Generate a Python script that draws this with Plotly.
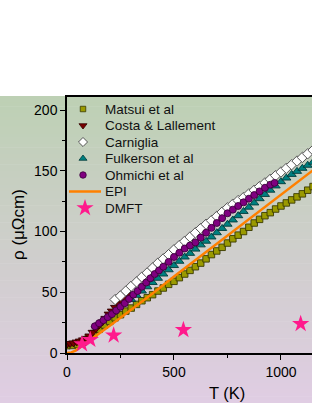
import plotly.graph_objects as go

# ---------------- data ----------------
matsui_T = [0, 25, 50, 75, 100, 125, 150, 175, 200, 225, 250, 275, 300, 325, 350, 375, 400, 425,
            450, 475, 500, 525, 550, 575, 600, 625, 650, 675, 700, 725, 750, 775, 800, 825, 850,
            875, 900, 925, 950, 975, 1000, 1025, 1050, 1075, 1100, 1125, 1150]
matsui_rho = [6, 6.2, 7, 9, 12.5, 16, 19.5, 23, 26, 29, 31.5, 34.5, 37, 40, 43, 45.5, 48, 51,
              53.5, 56.5, 59, 62, 65, 68, 71, 74, 77.5, 81, 84, 87, 90.5, 94, 97, 100, 103.5,
              107, 110, 113, 115.5, 118.5, 121, 123.5, 126, 128.5, 131, 134, 137]

costa_T = [0, 15, 30, 45, 60, 75, 90, 105, 120, 135, 150, 165, 180, 195, 210, 225, 240, 255, 270, 285]
costa_rho = [7.3, 7.8, 8.3, 9, 9.8, 10.8, 12, 14, 17, 20, 23, 25.5, 28.5, 32, 34.5, 37.5, 40.5,
             43, 45.5, 48]

carniglia_T = [225, 250, 275, 300, 325, 350, 375, 400, 425, 450, 475, 500, 525, 550, 575, 600,
               625, 650, 675, 700, 725, 750, 775, 800, 825, 850, 875, 900, 925, 950, 975, 1000,
               1025, 1050, 1075, 1100, 1125, 1150]
carniglia_rho = [44, 47, 51, 55, 58.5, 62.5, 66, 70, 74, 77.5, 81, 85, 88.5, 92, 95.5, 99,
                 102.5, 106, 109, 112.5, 116, 119.5, 122.5, 125.5, 128, 131, 134, 137, 140, 143,
                 146, 149, 152, 155, 158, 161, 164, 167]

fulkerson_T = [300, 325, 350, 375, 400, 425, 450, 475, 500, 525, 550, 575, 600, 625, 650, 675,
               700, 725, 750, 775, 800, 825, 850, 875, 900, 925, 950, 975, 1000, 1025, 1050,
               1075, 1100, 1125, 1150]
fulkerson_rho = [44, 47.5, 51, 54.5, 58, 61.5, 65, 68.5, 72, 75.5, 79, 82, 85.5, 89, 92, 95.5,
                 99, 102.5, 106, 109.5, 113, 116.5, 120, 123.5, 127, 130.5, 134, 137.5, 141, 144,
                 147, 149.5, 152, 154.5, 157]

ohmichi_T = [130, 150, 170, 190, 210, 230, 250, 270, 290, 310, 330, 350, 370, 390, 410, 430, 450,
             475, 500, 525, 550, 575, 600, 625, 650, 675, 700, 725, 750, 775, 800, 825, 850, 875,
             900, 925, 950, 970]
ohmichi_rho = [22, 24.5, 27, 29.5, 32, 35, 38, 41, 44.5, 48, 51, 54.5, 58, 61.5, 65, 68, 71, 75,
               79, 82.5, 86, 88.5, 91, 95, 99, 103, 107, 111, 115, 118, 121, 124, 127, 130, 133,
               136, 138.5, 140]

epi_T = [0, 20, 40, 60, 80, 100, 125, 150, 200, 250, 300, 400, 500, 600, 700, 800, 900, 1000,
         1100, 1150]
epi_rho = [0, 0.5, 2, 4.5, 7, 9.5, 12.5, 16, 22.5, 29, 35.5, 49, 63, 76.5, 90, 103.5, 117, 130.5,
           144, 150.5]

dmft_T = [70, 109, 218, 544, 1092]
dmft_rho = [7.3, 10.9, 14.5, 19, 24]

legend_names = ["Matsui et al", "Costa & Lallement", "Carniglia", "Fulkerson et al",
                "Ohmichi et al", "EPI", "DMFT"]

x_ticks = [0, 500, 1000]
y_ticks = [0, 50, 100, 150, 200]

# ---------------- styles ----------------
FONT = "Liberation Sans, Arial, sans-serif"
W, H = 312, 403
ML, MR, MT, MB = 67, 0, 97, 50
PW, PH = W - ML - MR, H - MT - MB

styles = [
    dict(symbol="square", size=6.5, color="#9a9a00", line=dict(color="#3a3a00", width=0.9)),
    dict(symbol="triangle-down", size=8, color="#7a0000", line=dict(color="#300000", width=0.9)),
    dict(symbol="diamond", size=8, color="white", line=dict(color="#555555", width=1)),
    dict(symbol="triangle-up", size=8, color="#008080", line=dict(color="#003a3a", width=0.9)),
    dict(symbol="circle", size=7, color="#800080", line=dict(color="#3a003a", width=0.9)),
]
legend_styles = [
    dict(symbol="square", size=5.5, color="#9a9a00", line=dict(color="#3a3a00", width=0.8)),
    dict(symbol="triangle-down", size=7, color="#7a0000", line=dict(color="#300000", width=0.8)),
    dict(symbol="diamond", size=7, color="white", line=dict(color="#555555", width=1)),
    dict(symbol="triangle-up", size=7, color="#008080", line=dict(color="#003a3a", width=0.8)),
    dict(symbol="circle", size=6.5, color="#800080", line=dict(color="#3a003a", width=0.8)),
]
series = [(matsui_T, matsui_rho), (costa_T, costa_rho), (carniglia_T, carniglia_rho),
          (fulkerson_T, fulkerson_rho), (ohmichi_T, ohmichi_rho)]

fig = go.Figure()
for (t, r), st, nm in zip(series, styles, legend_names[:5]):
    fig.add_trace(go.Scatter(x=t, y=r, mode="markers", marker=st, name=nm, showlegend=False))
fig.add_trace(go.Scatter(x=epi_T, y=epi_rho, mode="lines", line=dict(color="#ff8000", width=2.5),
                         name="EPI", showlegend=False))
star_style = dict(symbol="star", size=13, color="#ff1a8c", line=dict(width=0))
fig.add_trace(go.Scatter(x=dmft_T, y=dmft_rho, mode="markers", marker=star_style,
                         name="DMFT", showlegend=False))

# ---------------- manual legend on an overlay pixel axis ----------------
leg_x_sym, leg_x_txt, leg_y0, leg_dy = 83, 103, 109, 16.5
annotations = []
for i, nm in enumerate(legend_names):
    yy = leg_y0 + i * leg_dy
    if i < 5:
        fig.add_trace(go.Scatter(x=[leg_x_sym], y=[yy], mode="markers", marker=legend_styles[i],
                                 xaxis="x2", yaxis="y2", showlegend=False, hoverinfo="skip"))
    elif i == 5:
        fig.add_trace(go.Scatter(x=[69, 101], y=[yy, yy], mode="lines",
                                 line=dict(color="#ff8000", width=2.5),
                                 xaxis="x2", yaxis="y2", showlegend=False, hoverinfo="skip"))
    else:
        fig.add_trace(go.Scatter(x=[leg_x_sym + 2], y=[yy], mode="markers", marker=star_style,
                                 xaxis="x2", yaxis="y2", showlegend=False, hoverinfo="skip"))
    annotations.append(dict(text=nm, x=leg_x_txt, y=yy, xref="x2", yref="y2", xanchor="left",
                            yanchor="middle", showarrow=False,
                            font=dict(family=FONT, size=13.5, color="#111111")))

# axis titles
annotations.append(dict(text="T (K)", x=(227 - ML) / PW, y=-(393 - (MT + PH)) / PH,
                        xref="paper", yref="paper", showarrow=False, xanchor="center",
                        yanchor="middle", font=dict(family=FONT, size=16.5, color="black")))
annotations.append(dict(text="ρ (μΩcm)", x=(18 - ML) / PW, y=0.5, xref="paper", yref="paper",
                        showarrow=False, textangle=-90, xanchor="center", yanchor="middle",
                        font=dict(family=FONT, size=17, color="black")))

# ---------------- gradient background (strips) ----------------
top_c = (189, 208, 180)
bot_c = (224, 205, 227)
y_top_px, y_bot_px = 96, H
n = 90
shapes = []
for k in range(n):
    f = (k + 0.5) / n
    c = tuple(round(top_c[j] + (bot_c[j] - top_c[j]) * f) for j in range(3))
    py0 = y_top_px + (y_bot_px - y_top_px) * k / n
    py1 = y_top_px + (y_bot_px - y_top_px) * (k + 1) / n + 0.6
    shapes.append(dict(type="rect", xref="paper", yref="paper",
                       x0=-ML / PW - 0.01, x1=1.01,
                       y0=(MT + PH - min(py1, H)) / PH, y1=(MT + PH - py0) / PH,
                       fillcolor="rgb(%d,%d,%d)" % c, line=dict(width=0), layer="below"))

axis_common = dict(showgrid=False, zeroline=False, showline=True, linecolor="black",
                   linewidth=1.5, ticks="outside", ticklen=5, tickwidth=1.3,
                   tickcolor="black", tickfont=dict(family=FONT, size=14, color="black"))

fig.update_layout(
    width=W, height=H,
    margin=dict(l=ML, r=MR, t=MT, b=MB, pad=0),
    paper_bgcolor="white", plot_bgcolor="rgba(0,0,0,0)",
    showlegend=False,
    xaxis=dict(range=[0, 1145], tickvals=x_ticks, mirror=True,
               minor=dict(dtick=250, ticks="outside", ticklen=3, tickcolor="black"),
               **axis_common),
    yaxis=dict(range=[0, 210.7], tickvals=y_ticks,
               minor=dict(dtick=25, ticks="outside", ticklen=3, tickcolor="black"),
               **axis_common),
    xaxis2=dict(overlaying="x", range=[ML, W - MR], visible=False, anchor="y2"),
    yaxis2=dict(overlaying="y", range=[MT + PH, MT], visible=False, anchor="x2"),
    shapes=shapes,
    annotations=annotations,
    font=dict(family=FONT),
)

fig.write_html(
    "out.html",
    config={"displayModeBar": False},
    post_script="document.body.style.margin='0';document.body.style.padding='0';"
                "document.documentElement.style.overflow='hidden';",
)
